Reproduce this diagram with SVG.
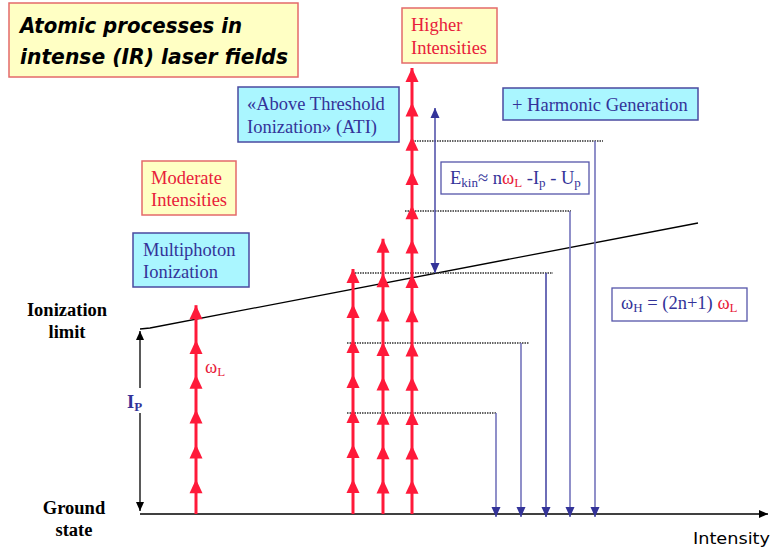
<svg xmlns="http://www.w3.org/2000/svg" width="771" height="554" viewBox="0 0 771 554">
<defs>
<style>
.serif{font-family:"Liberation Serif","Times New Roman",serif;font-size:18.5px}
.bold{font-weight:bold}
.blue{fill:#333399}
.red{fill:#e8203a}
.blk{fill:#000}
.sub{font-size:13px}
.ybox{fill:#ffffc4;stroke:#e46a6a;stroke-width:1.5}
.cbox{fill:#aaf6ff;stroke:#4a4aa0;stroke-width:1.5}
.wbox{fill:#fff;stroke:#5555aa;stroke-width:1.3}
.dot{stroke:#333;stroke-width:1.3;stroke-dasharray:1.5 1;fill:none}
.vline{stroke:#7474bc;stroke-width:1.6;fill:none;marker-end:url(#bh)}
.ra{stroke:#ff1a3a;stroke-width:3;fill:none;marker-mid:url(#rh);marker-end:url(#rh)}
.kline{stroke:#000;stroke-width:1.3;fill:none}
</style>
<marker id="rh" markerUnits="userSpaceOnUse" viewBox="-15 -8 17 16" markerWidth="17" markerHeight="16" refX="0" refY="0" orient="auto" overflow="visible"><path d="M0,0 L-14,-6.5 L-14,6.5 Z" fill="#ff1a3a"/></marker>
<marker id="bh" markerUnits="userSpaceOnUse" viewBox="-11 -6 12 12" markerWidth="12" markerHeight="12" refX="0" refY="0" orient="auto" overflow="visible"><path d="M0,0 L-10,-4.5 L-10,4.5 Z" fill="#333399"/></marker>
<marker id="kh" markerUnits="userSpaceOnUse" viewBox="-11 -6 12 12" markerWidth="12" markerHeight="12" refX="0" refY="0" orient="auto" overflow="visible"><path d="M0,0 L-9,-4 L-9,4 Z" fill="#000"/></marker>
</defs>

<g id="title">
<rect x="9" y="3" width="289" height="74" class="ybox"/>
<text x="20" y="33" font-family="'DejaVu Sans',sans-serif" font-size="21" font-weight="bold" font-style="italic" textLength="222" lengthAdjust="spacingAndGlyphs">Atomic processes in</text>
<text x="20" y="64" font-family="'DejaVu Sans',sans-serif" font-size="21" font-weight="bold" font-style="italic" textLength="268" lengthAdjust="spacingAndGlyphs">intense (IR) laser fields</text>
</g>

<g id="higher-intensities">
<rect x="402" y="8" width="95" height="55" class="ybox"/>
<text x="411" y="31" class="serif red">Higher</text>
<text x="411" y="54" class="serif red">Intensities</text>
</g>

<g id="ati">
<rect x="238" y="87" width="161" height="55" class="cbox"/>
<text x="247" y="110" class="serif blue">«Above Threshold</text>
<text x="247" y="133" class="serif blue">Ionization» (ATI)</text>
</g>

<g id="harmonic">
<rect x="503" y="88" width="195" height="32" class="cbox"/>
<text x="512" y="111" class="serif blue">+ Harmonic Generation</text>
</g>

<g id="moderate-intensities">
<rect x="142" y="161" width="94" height="54" class="ybox"/>
<text x="151" y="184" class="serif red">Moderate</text>
<text x="151" y="206" class="serif red">Intensities</text>
</g>

<g id="multiphoton">
<rect x="133" y="233" width="116" height="54" class="cbox"/>
<text x="143" y="256" class="serif blue">Multiphoton</text>
<text x="143" y="278" class="serif blue">Ionization</text>
</g>

<g id="ekin">
<rect x="441" y="162" width="148" height="32" class="wbox"/>
<text x="450" y="184" class="serif blue">E<tspan class="sub" dy="3">kin</tspan><tspan dy="-3">≈ n</tspan><tspan class="red">ω</tspan><tspan class="sub red" dy="3">L</tspan><tspan dy="-3"> -I</tspan><tspan class="sub" dy="3">p</tspan><tspan dy="-3"> - U</tspan><tspan class="sub" dy="3">p</tspan></text>
</g>

<g id="omega-h">
<rect x="612" y="288" width="135" height="33" class="wbox"/>
<text x="621" y="309" class="serif blue">ω<tspan class="sub" dy="3">H</tspan><tspan dy="-3"> = (2n+1) </tspan><tspan class="red">ω</tspan><tspan class="sub red" dy="3">L</tspan></text>
</g>

<g id="labels">
<text x="67" y="316" text-anchor="middle" class="serif bold blk" font-size="17">Ionization</text>
<text x="67" y="338" text-anchor="middle" class="serif bold blk">limit</text>
<text x="74" y="514" text-anchor="middle" class="serif bold blk">Ground</text>
<text x="74" y="536" text-anchor="middle" class="serif bold blk">state</text>
<text x="127" y="408" class="serif bold blue">I<tspan class="sub" dy="3">P</tspan></text>
<text x="205" y="373" class="serif red" font-size="17">ω<tspan class="sub" dy="3">L</tspan></text>
<text x="693" y="544" font-family="'DejaVu Sans',sans-serif" font-size="16" textLength="77" lengthAdjust="spacingAndGlyphs">Intensity</text>
</g>

<g id="connectors">
<path class="kline" d="M140,329 L150,328 L698,223"/>
<path class="kline" d="M140,514 H768" marker-end="url(#kh)"/>
<path class="kline" d="M140,388 V331" marker-end="url(#kh)"/>
<path class="kline" d="M140,413 V511" marker-end="url(#kh)"/>

<path class="dot" d="M347,413 H496"/>
<path class="dot" d="M347,343 H529"/>
<path class="dot" d="M355,273 H553"/>
<path class="dot" d="M405,211 H571"/>
<path class="dot" d="M412,141 H603"/>
<path class="vline" d="M496,413 V517"/>
<path class="vline" d="M521,343 V517"/>
<path class="vline" d="M546,273 V517" style="stroke:#4a4aa6"/>
<path class="vline" d="M570,211 V517"/>
<path class="vline" d="M595,141 V517"/>

<path d="M435,190 V108" stroke="#4a4aa6" stroke-width="1.5" fill="none" marker-end="url(#bh)"/>
<path d="M435,190 V273" stroke="#4a4aa6" stroke-width="1.5" fill="none" marker-end="url(#bh)"/>

<path class="ra" d="M196,514 V479.2 V444.4 V409.6 V374.8 V340 V305.2"/>
<path class="ra" d="M353,514 V479 V444 V409 V374 V339 V304 V269"/>
<path class="ra" d="M383,514 V479.6 V445.2 V410.8 V376.4 V342 V307.6 V273.2 V238.8"/>
<path class="ra" d="M412,514 V479.7 V445.4 V411.1 V376.8 V342.5 V308.2 V273.9 V239.6 V205.3 V171 V136.7 V102.4 V68.1"/>
</g>
</svg>
